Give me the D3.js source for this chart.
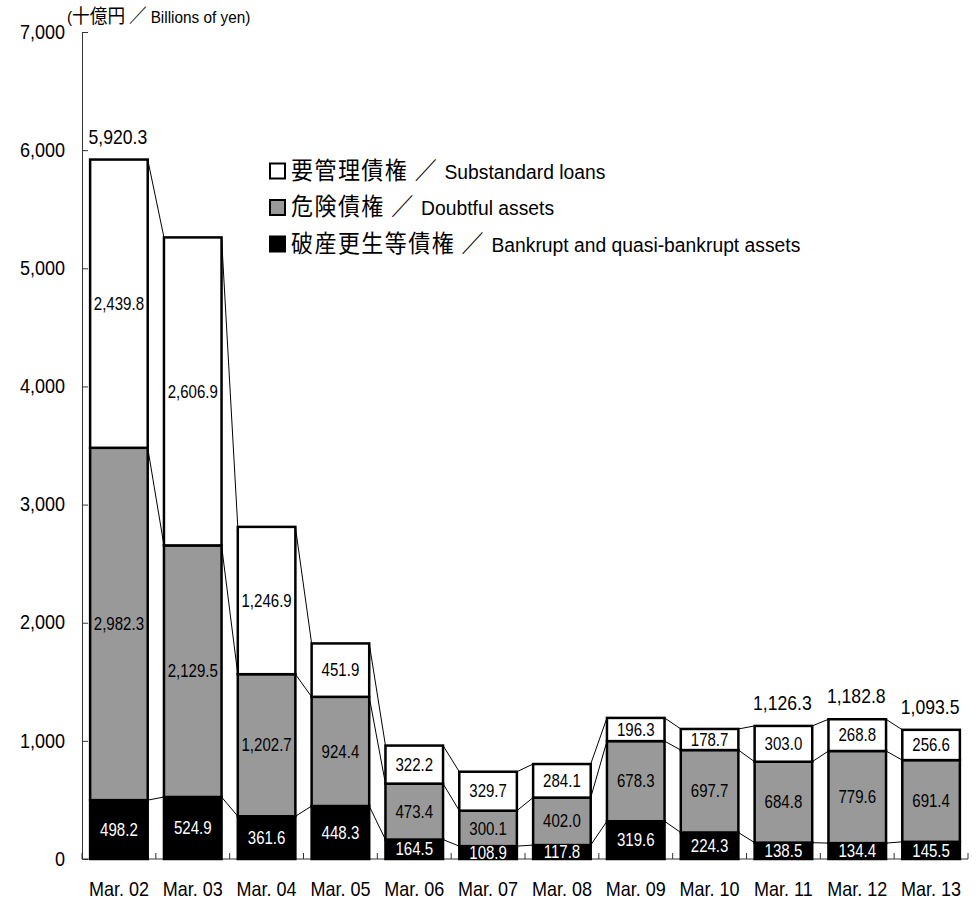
<!DOCTYPE html>
<html>
<head>
<meta charset="utf-8">
<script src="https://cdn.jsdelivr.net/npm/d3@7"></script>
<style>
  html, body { margin: 0; padding: 0; background: #fff; }
  svg { display: block; }
  text { font-family: "Liberation Sans", Arial, "Noto Sans CJK JP", sans-serif; fill: #000; }
  .cjk { font-family: "Noto Sans CJK JP", "Noto Sans CJK SC", sans-serif; }
</style>
</head>
<body>
<script>
// ---- data ----
const categories = ["Mar. 02","Mar. 03","Mar. 04","Mar. 05","Mar. 06","Mar. 07","Mar. 08","Mar. 09","Mar. 10","Mar. 11","Mar. 12","Mar. 13"];
const bankrupt    = [498.2, 524.9, 361.6, 448.3, 164.5, 108.9, 117.8, 319.6, 224.3, 138.5, 134.4, 145.5];
const doubtful    = [2982.3, 2129.5, 1202.7, 924.4, 473.4, 300.1, 402.0, 678.3, 697.7, 684.8, 779.6, 691.4];
const substandard = [2439.8, 2606.9, 1246.9, 451.9, 322.2, 329.7, 284.1, 196.3, 178.7, 303.0, 268.8, 256.6];
const showTotal   = [true, false, false, false, false, false, false, false, false, true, true, true];
const yTicks = [0, 1000, 2000, 3000, 4000, 5000, 6000, 7000];
const seriesNames = [
  { cjk: "要管理債権 ／ ", en: "Substandard loans" },
  { cjk: "危険債権 ／ ", en: "Doubtful assets" },
  { cjk: "破産更生等債権 ／ ", en: "Bankrupt and quasi-bankrupt assets" }
];
const axisTitle = { open: "(", cjk: "十億円 ／ ", en: "Billions of yen)" };

// ---- setup ----
const W = 980, H = 901;
const fills = ["#ffffff", "#999999", "#000000"]; // substandard, doubtful, bankrupt
const labelColors = ["#000", "#000", "#fff"];

const svg = d3.select("body").append("svg").attr("width", W).attr("height", H);

const x = d3.scaleBand().domain(categories).range([82, 968]).paddingInner(0.22).paddingOuter(0.11);
const y = d3.scaleLinear().domain([0, 7000]).range([859, 32]);

const rows = categories.map((c, i) => ({ cat: c, bankrupt: bankrupt[i], doubtful: doubtful[i], substandard: substandard[i] }));
const keys = ["bankrupt", "doubtful", "substandard"];
const stack = d3.stack().keys(keys)(rows);
const colorOf = { bankrupt: fills[2], doubtful: fills[1], substandard: fills[0] };
const labelColorOf = { bankrupt: labelColors[2], doubtful: labelColors[1], substandard: labelColors[0] };

function stxt(g, px, py, s, size, sx, anchor) {
  return g.append("text")
    .attr("transform", `translate(${px},${py}) scale(${sx},1)`)
    .attr("text-anchor", anchor)
    .attr("dy", "0.35em")
    .style("font-size", size + "px")
    .text(s);
}

// ---- connector lines ----
const conn = svg.append("g").attr("stroke", "#000").attr("stroke-width", 1).attr("fill", "none");
stack.forEach(layer => {
  for (let i = 0; i < layer.length - 1; i++) {
    conn.append("line")
      .attr("x1", x(categories[i]) + x.bandwidth())
      .attr("y1", y(layer[i][1]))
      .attr("x2", x(categories[i + 1]))
      .attr("y2", y(layer[i + 1][1]));
  }
});

// ---- axes ----
const YS = 0.88;
const yAxis = d3.axisLeft(y).tickValues(yTicks).tickFormat(d3.format(",")).tickSizeInner(-6).tickSizeOuter(0).tickPadding(17);
const yg = svg.append("g").attr("transform", "translate(82,0)").call(yAxis);
yg.select(".domain").attr("stroke", "#333");
yg.selectAll(".tick line").attr("stroke", "#333");
yg.selectAll(".tick text")
  .style("font-size", "20.5px")
  .style("font-family", "'Liberation Sans', Arial, sans-serif")
  .attr("fill", "#000")
  .attr("x", -17 / YS)
  .attr("dy", "0.3em")
  .attr("transform", `scale(${YS},1)`);

const XS = 0.9;
const xAxis = d3.axisBottom(x).tickSize(0).tickPadding(23);
const xg = svg.append("g").attr("transform", "translate(0,859)").call(xAxis);
xg.select(".domain").attr("stroke", "#333").attr("d", `M82,0H968`);
xg.selectAll(".tick text")
  .style("font-size", "20px")
  .style("font-family", "'Liberation Sans', Arial, sans-serif")
  .attr("fill", "#000")
  .attr("transform", `scale(${XS},1)`);
// boundary ticks between categories
const step = x.step();
const x0 = x.range()[0];
xg.append("g").selectAll("line").data(d3.range(categories.length + 1)).join("line")
  .attr("x1", i => x0 + i * step).attr("x2", i => x0 + i * step)
  .attr("y1", 0).attr("y2", -6)
  .attr("stroke", "#333");

// ---- bars ----
const bars = svg.append("g");
stack.forEach(layer => {
  bars.append("g").selectAll("rect").data(layer).join("rect")
    .attr("x", d => x(d.data.cat))
    .attr("width", x.bandwidth())
    .attr("y", d => y(d[1]))
    .attr("height", d => y(d[0]) - y(d[1]))
    .attr("fill", colorOf[layer.key])
    .attr("stroke", "#000")
    .attr("stroke-width", 2.5);
});

// ---- segment labels ----
const labels = svg.append("g");
stack.forEach(layer => {
  layer.forEach(d => {
    const v = d[1] - d[0];
    const t = stxt(labels, x(d.data.cat) + x.bandwidth() / 2, (y(d[0]) + y(d[1])) / 2, d3.format(",.1f")(v), 17.5, 0.86, "middle");
    t.style("fill", labelColorOf[layer.key]);
  });
});

// ---- total labels ----
categories.forEach((c, i) => {
  if (!showTotal[i]) return;
  const tot = bankrupt[i] + doubtful[i] + substandard[i];
  stxt(labels, x(c) + x.bandwidth() / 2 - 1, y(tot) - 23, d3.format(",.1f")(tot), 20, 0.88, "middle");
});

// ---- axis title ----
const at = svg.append("text").attr("transform", "translate(67,23) scale(0.93,1)").style("font-size", "16.5px");
at.append("tspan").text(axisTitle.open);
at.append("tspan").attr("class", "cjk").style("font-size", "19px").text(axisTitle.cjk);
at.append("tspan").text(axisTitle.en);

// ---- legend ----
const legend = svg.append("g");
seriesNames.forEach((s, i) => {
  const cy = 171 + i * 36.5;
  legend.append("rect").attr("x", 270).attr("y", cy - 7.5).attr("width", 15).attr("height", 15)
    .attr("fill", fills[i]).attr("stroke", "#000").attr("stroke-width", 2);
  const t = legend.append("text").attr("transform", `translate(291,${cy}) scale(0.92,1)`).attr("dy", "0.36em").style("font-size", "21px");
  t.append("tspan").attr("class", "cjk").style("font-size", "23.9px").style("letter-spacing", "1.6px").text(s.cjk);
  t.append("tspan").text(s.en);
});
</script>
</body>
</html>
